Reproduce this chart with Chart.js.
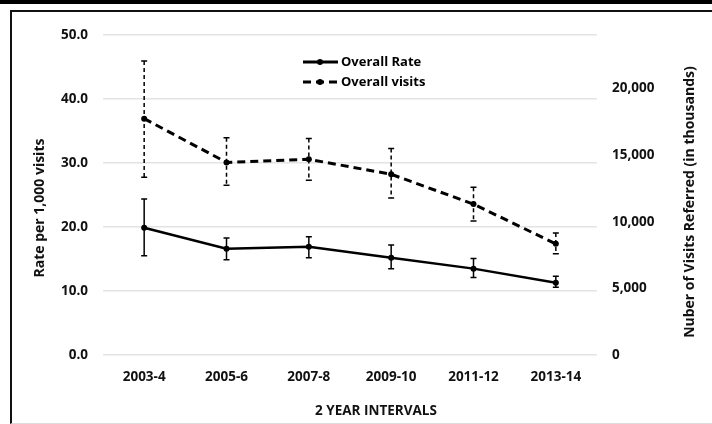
<!DOCTYPE html>
<html>
<head>
<meta charset="utf-8">
<script src="https://cdn.jsdelivr.net/npm/chart.js@4"></script>
<style>
  body { margin: 0; background: #fff; }
  #topBar { position: absolute; left: 0; top: 0; width: 712px; height: 4px; background: #000; }
  #frame { position: absolute; left: 10px; top: 10px; width: 702px; height: 411px;
           border-top: 2px solid #111; border-left: 2px solid #111; border-bottom: 1px solid #ddd; }
  #box { position: absolute; left: 0; top: 0; width: 700px; height: 410px; }
</style>
</head>
<body>
<div id="topBar"></div>
<div id="frame"><div id="box"><canvas id="myChart"></canvas></div></div>
<script>
const intervalos = ['2003-4', '2005-6', '2007-8', '2009-10', '2011-12', '2013-14'];

const tasa = [19.9, 16.6, 16.9, 15.2, 13.5, 11.3];
const tasaAlta = [24.4, 18.3, 18.5, 17.2, 15.1, 12.3];
const tasaBaja = [15.5, 14.9, 15.2, 13.5, 12.1, 10.6];

const visitas = [17730, 14450, 14680, 13560, 11320, 8340];
const visitasAlta = [22050, 16300, 16240, 15500, 12590, 9160];
const visitasBaja = [13340, 12740, 13110, 11770, 10060, 7600];

const ticksDerecha = [0, 5000, 10000, 15000, 20000];

const tituloIzq = 'Rate per 1,000 visits';
const tituloDer = 'Nuber of Visits Referred (in thousands)';
const tituloX = '2 YEAR INTERVALS';

const fuente = '"Open Sans", "DejaVu Sans", sans-serif';

function textoGirado(ctx, texto, x, y, tam, angulo) {
  ctx.save();
  ctx.font = 'bold ' + tam + 'px ' + fuente;
  ctx.fillStyle = '#111';
  ctx.textAlign = 'center';
  ctx.textBaseline = 'middle';
  ctx.translate(x, y);
  ctx.rotate(angulo);
  ctx.fillText(texto, 0, 0);
  ctx.restore();
}

// error bars, axis titles and the legend inside the plot
const barrasError = {
  id: 'barrasError',
  afterDatasetsDraw(chart) {
    const ctx = chart.ctx;
    const x = chart.scales.x;
    chart.data.datasets.forEach(ds => {
      const y = chart.scales[ds.yAxisID];
      ctx.save();
      ctx.strokeStyle = '#000';
      ctx.lineWidth = 1.5;
      ds.alta.forEach((v, i) => {
        const px = x.getPixelForValue(i);
        const top = y.getPixelForValue(v);
        const bot = y.getPixelForValue(ds.baja[i]);
        ctx.setLineDash(ds.borderDash.length ? [4, 3] : []);
        ctx.beginPath();
        ctx.moveTo(px, top);
        ctx.lineTo(px, bot);
        ctx.stroke();
        ctx.setLineDash([]);
        ctx.beginPath();
        ctx.moveTo(px - 3, top); ctx.lineTo(px + 3, top);
        ctx.moveTo(px - 3, bot); ctx.lineTo(px + 3, bot);
        ctx.stroke();
      });
      ctx.restore();
    });
  },
  afterDraw(chart) {
    const ctx = chart.ctx;
    const area = chart.chartArea;
    const x0 = area.left + 200;
    let y0 = area.top + 27;
    chart.data.datasets.forEach(ds => {
      ctx.save();
      ctx.strokeStyle = '#000';
      ctx.lineWidth = 3;
      ctx.setLineDash(ds.borderDash);
      ctx.beginPath();
      ctx.moveTo(x0, y0);
      ctx.lineTo(x0 + 35, y0);
      ctx.stroke();
      ctx.beginPath();
      ctx.arc(x0 + 17, y0, 3, 0, Math.PI * 2);
      ctx.fillStyle = '#000';
      ctx.fill();
      ctx.font = 'bold 13px ' + fuente;
      ctx.textBaseline = 'middle';
      ctx.fillText(ds.label, x0 + 38, y0);
      ctx.restore();
      y0 += 20;
    });

    const midY = (area.top + area.bottom) / 2;
    const midX = (area.left + area.right) / 2;
    textoGirado(ctx, tituloIzq, chart.scales.y.left + 28, midY + 13, 14, -Math.PI / 2);
    textoGirado(ctx, tituloDer, chart.scales.y1.right - 22, midY + 7, 14, -Math.PI / 2);
    textoGirado(ctx, tituloX, midX + 26, chart.scales.x.bottom - 11, 13.5, 0);
  }
};

const grafica = document.getElementById('myChart');
new Chart(grafica, {
  type: 'line',
  data: {
    labels: intervalos,
    datasets: [{
      label: 'Overall Rate',
      data: tasa,
      alta: tasaAlta,
      baja: tasaBaja,
      yAxisID: 'y',
      borderColor: '#000',
      borderWidth: 2.5,
      borderDash: [],
      pointRadius: 3,
      pointBorderWidth: 0,
      pointBackgroundColor: '#000',
      tension: 0
    },
    {
      label: 'Overall visits',
      data: visitas,
      alta: visitasAlta,
      baja: visitasBaja,
      yAxisID: 'y1',
      borderColor: '#000',
      borderWidth: 3,
      borderDash: [8, 5],
      pointRadius: 3,
      pointBorderWidth: 0,
      pointBackgroundColor: '#000',
      tension: 0
    }]
  },
  options: {
    responsive: true,
    maintainAspectRatio: false,
    animation: false,
    layout: { padding: { top: 21, left: 0, right: 0, bottom: 0 } },
    plugins: {
      legend: { display: false },
      tooltip: { enabled: false }
    },
    scales: {
      x: {
        offset: true,
        grid: { display: false, drawTicks: false },
        border: { display: false },
        ticks: { color: '#111', padding: 14, font: { family: fuente, size: 13.5, weight: 'bold' } },
        afterFit(s) { s.height = 67; }
      },
      y: {
        position: 'left',
        min: 0,
        max: 50,
        ticks: { stepSize: 10, color: '#111', padding: 15,
                 font: { family: fuente, size: 13.5, weight: 'bold' },
                 callback: v => v.toFixed(1) },
        grid: { color: '#e3e3e3', lineWidth: 1.5, drawTicks: false },
        border: { display: false },
        afterFit(s) { s.width = 91; }
      },
      y1: {
        position: 'right',
        min: 0,
        max: 24000,
        afterBuildTicks(s) { s.ticks = ticksDerecha.map(v => ({ value: v })); },
        ticks: { color: '#111', padding: 15,
                 font: { family: fuente, size: 13.5, weight: 'bold' },
                 callback: v => v.toLocaleString('en-US') },
        grid: { display: false, drawTicks: false },
        border: { display: false },
        afterFit(s) { s.width = 115; }
      }
    }
  },
  plugins: [barrasError]
});
</script>
</body>
</html>
